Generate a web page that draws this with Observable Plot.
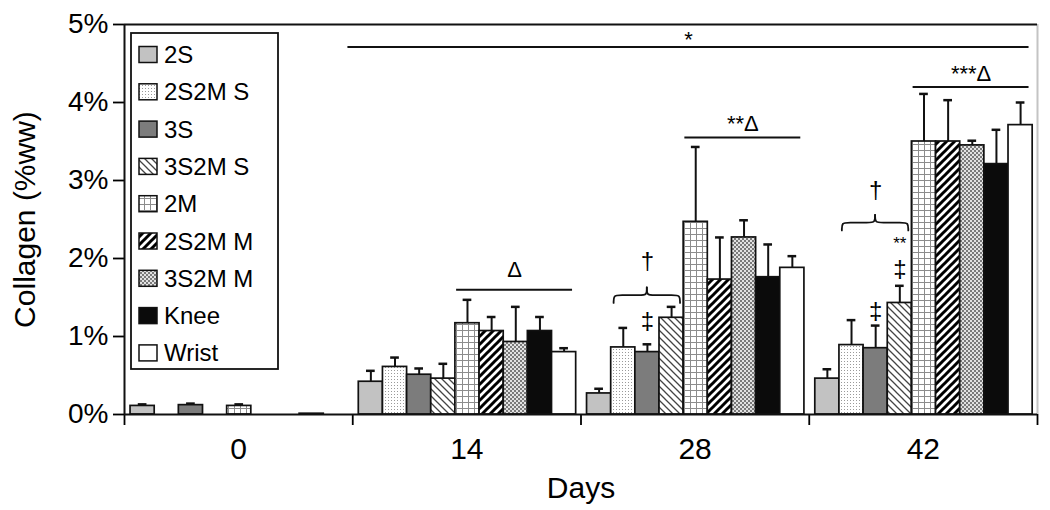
<!DOCTYPE html>
<html><head><meta charset="utf-8">
<script src="https://cdn.jsdelivr.net/npm/d3@7"></script>
<script src="https://cdn.jsdelivr.net/npm/@observablehq/plot@0.6"></script>
<style>
body{margin:0;background:#fff}
svg{display:block}
g[aria-label^="x-axis"] line, g[aria-label^="x-axis"] path,
g[aria-label^="y-axis"] line, g[aria-label^="y-axis"] path{stroke-width:1.8px}
</style>
</head><body><div id="chart"></div>
<script>
// ---- data ----
const days = ["0", "14", "28", "42"];
const series = ["2S", "2S2M S", "3S", "3S2M S", "2M", "2S2M M", "3S2M M", "Knee", "Wrist"];
const yTicks = [0, 1, 2, 3, 4, 5];

const day0Values  = [0.11, null, 0.12, null, 0.11, null, null, 0.01, null];
const day14Values = [0.42, 0.61, 0.51, 0.46, 1.17, 1.07, 0.93, 1.07, 0.80];
const day28Values = [0.27, 0.86, 0.80, 1.24, 2.47, 1.73, 2.27, 1.76, 1.88];
const day42Values = [0.46, 0.89, 0.85, 1.43, 3.50, 3.50, 3.45, 3.21, 3.71];

const day0Err  = [0.02, null, 0.02, null, 0.02, null, null, 0, null];
const day14Err = [0.14, 0.12, 0.08, 0.19, 0.30, 0.18, 0.45, 0.18, 0.05];
const day28Err = [0.06, 0.25, 0.10, 0.14, 0.96, 0.54, 0.22, 0.42, 0.15];
const day42Err = [0.12, 0.32, 0.29, 0.22, 0.61, 0.53, 0.06, 0.44, 0.29];

// significance annotations
const sigLines = [
  {label: "*",    fromDay: "14", fromSeries: "2S", toDay: "42", toSeries: "Wrist", y: 4.71, labelY: 4.80},
  {label: "Δ",    fromDay: "14", fromSeries: "2M", toDay: "14", toSeries: "Wrist", y: 1.60, labelY: 1.85},
  {label: "**Δ",  fromDay: "28", fromSeries: "2M", toDay: "28", toSeries: "Wrist", y: 3.55, labelY: 3.72},
  {label: "***Δ", fromDay: "42", fromSeries: "2M", toDay: "42", toSeries: "Wrist", y: 4.20, labelY: 4.37}
];
const braces = [
  {day: "28", from: "2S2M S", to: "3S2M S", y: 1.53},
  {day: "42", from: "2S2M S", to: "3S2M S", y: 2.46}
];
const symbols = [
  {day: "28", series: "3S", text: "†", y: 1.97, size: 24},
  {day: "28", series: "3S", text: "‡", y: 1.19, size: 24},
  {day: "42", series: "3S", text: "†", y: 2.87, size: 24},
  {day: "42", series: "3S", text: "‡", y: 1.32, size: 24},
  {day: "42", series: "3S2M S", text: "‡", y: 1.86, size: 24},
  {day: "42", series: "3S2M S", text: "**", y: 2.19, size: 17}
];

// ---- layout helpers ----
const G = 9.45, OFF = 0.25;
const slot = (day, s) => days.indexOf(day) * G + OFF + series.indexOf(s);
const fills = {
  "2S": "#c2c2c2", "2S2M S": "url(#pDots)", "3S": "#7c7c7c", "3S2M S": "url(#pBack)",
  "2M": "url(#pGrid)", "2S2M M": "url(#pFwd)", "3S2M M": "url(#pCheck)", "Knee": "#0b0b0b", "Wrist": "#ffffff"
};

const valueTable = [day0Values, day14Values, day28Values, day42Values];
const errTable = [day0Err, day14Err, day28Err, day42Err];
const bars = days.flatMap((d, i) => series.map((s, j) => ({
  day: d, series: s, value: valueTable[i][j], err: errTable[i][j]
}))).filter(b => b.value != null);
const errBars = bars.filter(b => b.err > 0);

const lineRows = sigLines.map(l => ({
  ...l,
  x1: l.label === "*" ? slot(l.fromDay, l.fromSeries) - 0.45 : slot(l.fromDay, l.fromSeries) + 0.05,
  x2: slot(l.toDay, l.toSeries) + 1 - 0.15
}));

const braceRows = braces.flatMap((b, k) => {
  const x0 = slot(b.day, b.from) + 0.1, x1 = slot(b.day, b.to) + 1 - 0.15;
  const xm = (x0 + x1) / 2, y = b.y, h = 0.1, q = 0.25;
  return [
    {z: k + "L", x: x0, y: y - h}, {z: k + "L", x: x0, y}, {z: k + "L", x: x0 + q, y},
    {z: k + "L", x: xm - q, y}, {z: k + "L", x: xm, y}, {z: k + "L", x: xm, y: y + h},
    {z: k + "R", x: x1, y: y - h}, {z: k + "R", x: x1, y}, {z: k + "R", x: x1 - q, y},
    {z: k + "R", x: xm + q, y}, {z: k + "R", x: xm, y}, {z: k + "R", x: xm, y: y + h}
  ];
});

const boundaries = days.map((d, i) => i * G).concat([days.length * G]);
const dayCenters = days.map((d, i) => ({day: d, x: i * G + G / 2}));

const svg = Plot.plot({
  width: 1050, height: 510,
  marginLeft: 124, marginRight: 13, marginTop: 24, marginBottom: 96,
  style: {fontFamily: "'Liberation Sans', Arial, Helvetica, sans-serif", fontSize: "28px", color: "#000", background: "#fff", overflow: "visible"},
  x: {type: "linear", domain: [0, days.length * G], ticks: boundaries, tickFormat: () => "", tickSize: 11, label: null},
  y: {domain: [0, 5], ticks: yTicks, tickFormat: d => d + "%", tickSize: 11, tickPadding: 5, label: null},
  color: {type: "identity"},
  marks: [
    Plot.ruleX([days.length * G], {stroke: "#c4c4c4", strokeWidth: 2}),
    Plot.ruleY([5], {stroke: "#111", strokeWidth: 2}),
    Plot.ruleX(errBars, {x: d => slot(d.day, d.series) + 0.5, y1: "value", y2: d => d.value + d.err, stroke: "#111", strokeWidth: 2}),
    Plot.ruleY(errBars, {y: d => d.value + d.err, x1: d => slot(d.day, d.series) + 0.32, x2: d => slot(d.day, d.series) + 0.68, stroke: "#111", strokeWidth: 2.5}),
    Plot.rect(bars, {x1: d => slot(d.day, d.series), x2: d => slot(d.day, d.series) + 1, y1: 0, y2: "value",
      fill: d => fills[d.series], stroke: "#111", strokeWidth: 1.7}),
    Plot.ruleY(lineRows, {y: "y", x1: "x1", x2: "x2", stroke: "#111", strokeWidth: 2}),
    Plot.text(lineRows, {x: d => (d.x1 + d.x2) / 2, y: "labelY", text: "label", fontSize: 22, lineAnchor: "middle"}),
    Plot.line(braceRows, {x: "x", y: "y", z: "z", curve: "basis", stroke: "#111", strokeWidth: 1.8}),
    Plot.text(symbols.filter(d => d.size === 24), {x: d => slot(d.day, d.series) + 0.5, y: "y", text: "text", fontSize: 24, lineAnchor: "middle"}),
    Plot.text(symbols.filter(d => d.size !== 24), {x: d => slot(d.day, d.series) + 0.5, y: "y", text: "text", fontSize: 17, lineAnchor: "middle"}),
    Plot.ruleY([0], {stroke: "#111", strokeWidth: 2}),
    Plot.ruleX([0], {stroke: "#111", strokeWidth: 2}),
    Plot.text(dayCenters, {x: "x", text: "day", frameAnchor: "bottom", dy: 35, fontSize: 30, lineAnchor: "middle"}),
    Plot.text(["Days"], {frameAnchor: "bottom", dy: 74, fontSize: 30, lineAnchor: "middle"}),
    Plot.text(["Collagen (%ww)"], {frameAnchor: "left", rotate: -90, dx: -99, fontSize: 30, lineAnchor: "middle", textAnchor: "middle"})
  ]
});

// ---- patterns ----
const root = d3.select(svg);
const defs = root.insert("defs", ":first-child");
function pattern(id, size, bg, draw) {
  const p = defs.append("pattern").attr("id", id).attr("patternUnits", "userSpaceOnUse")
    .attr("width", size).attr("height", size);
  p.append("rect").attr("width", size).attr("height", size).attr("fill", bg);
  draw(p);
}
pattern("pDots", 3, "#fff", p => {
  p.append("rect").attr("x", 1).attr("y", 1).attr("width", 1).attr("height", 1).attr("fill", "#9a9a9a");
});
pattern("pBack", 7, "#fff", p => {
  p.append("path").attr("d", "M0,0L7,7M-1,6L1,8M6,-1L8,1").attr("stroke", "#444").attr("stroke-width", 1.3);
});
pattern("pGrid", 6, "#fff", p => {
  p.append("path").attr("d", "M0,0.5H6M0.5,0V6").attr("stroke", "#8c8c8c").attr("stroke-width", 1);
});
pattern("pFwd", 8, "#fff", p => {
  p.append("path").attr("d", "M0,8L8,0M-2,2L2,-2M6,10L10,6").attr("stroke", "#000").attr("stroke-width", 3);
});
pattern("pCheck", 4, "#e2e2e2", p => {
  p.append("rect").attr("width", 2).attr("height", 2).attr("fill", "#7a7a7a");
  p.append("rect").attr("x", 2).attr("y", 2).attr("width", 2).attr("height", 2).attr("fill", "#7a7a7a");
});

// ---- legend ----
const lg = root.append("g").attr("font-family", "'Liberation Sans', Arial, sans-serif")
  .attr("font-size", 24).attr("text-anchor", "start");
lg.append("rect").attr("x", 131).attr("y", 33).attr("width", 147).attr("height", 336)
  .attr("fill", "#fff").attr("stroke", "#111").attr("stroke-width", 1.8);
series.forEach((s, i) => {
  const cy = 54.5 + i * 37.3;
  lg.append("rect").attr("x", 139).attr("y", cy - 8).attr("width", 18).attr("height", 16)
    .attr("fill", fills[s]).attr("stroke", "#111").attr("stroke-width", 1.5);
  lg.append("text").attr("x", 164).attr("y", cy + 8.5).attr("text-anchor", "start").text(s);
});

document.getElementById("chart").appendChild(svg);
</script>
</body></html>
